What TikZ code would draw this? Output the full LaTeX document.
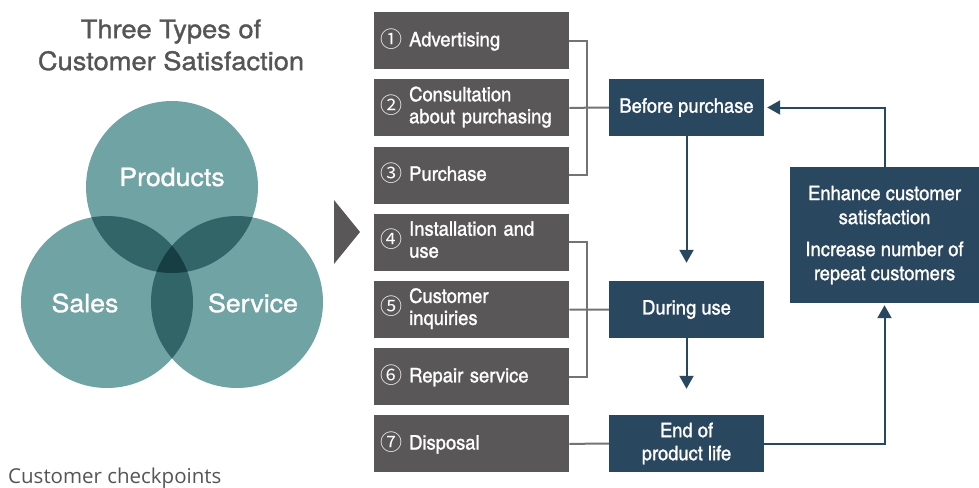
\documentclass[tikz,border=0pt]{standalone}
\usepackage{fontspec}
\setmainfont{TeX Gyre Heros}
\newfontfamily\headfont{TeX Gyre Heros}[FakeBold=1.2, FakeStretch=1.07]
\newfontfamily\condfont{texgyreheroscn}[Extension=.otf,UprightFont=*-regular,BoldFont=*-bold,
  FakeBold=1.2, FakeStretch=1.12]
\newfontfamily\cjkfont{Noto Sans CJK JP}
\newfontfamily\notefont{Open Sans}
\usetikzlibrary{arrows.meta,calc}

\definecolor{stepgray}{HTML}{595757}
\definecolor{phaseblue}{HTML}{2A4760}
\definecolor{venn}{HTML}{70A3A3}
\definecolor{vennpair}{HTML}{326567}
\definecolor{venncore}{HTML}{173F43}
\definecolor{titlegray}{HTML}{555555}
\definecolor{linegray}{HTML}{737373}

% circled step number
\newcommand{\cnum}[1]{{\cjkfont\fontsize{22}{22}\selectfont\symbol{\numexpr9311+#1\relax}}\hspace{7pt}}

\begin{document}
\begin{tikzpicture}[x=1pt, y=-1pt, >=Latex]

% styles
\tikzset{
  stepbox/.style={fill=stepgray, text=white, anchor=north west, minimum height=57pt,
    text width=183pt, inner xsep=6pt, inner ysep=0pt, align=left,
    font=\condfont\fontsize{20}{22}\selectfont},
  phase/.style={fill=phaseblue, text=white, minimum width=155pt, minimum height=57pt,
    inner sep=0pt, align=center, font=\condfont\fontsize{20}{23}\selectfont},
  bracket/.style={draw=linegray, line width=2pt},
  flow/.style={draw=phaseblue, line width=2pt, -{Triangle[width=14pt,length=13pt]}},
  venntext/.style={text=white, font=\headfont\fontsize{25}{25}\selectfont},
}

\useasboundingbox (0,0) rectangle (979,487);

% title
\node[text=titlegray, align=center, inner sep=0pt, font=\headfont\fontsize{25.5}{32}\selectfont]
  (title) at (171,45) {Three Types of\\Customer Satisfaction};

% venn diagram
\coordinate (P) at (172,187);
\coordinate (L) at (107,302);
\coordinate (R) at (237,302);
\fill[venn] (P) circle (86) (L) circle (86) (R) circle (86);
\begin{scope}
  \clip (P) circle (86);
  \fill[vennpair] (L) circle (86) (R) circle (86);
\end{scope}
\begin{scope}
  \clip (L) circle (86);
  \fill[vennpair] (R) circle (86);
\end{scope}
\begin{scope}
  \clip (P) circle (86);
  \clip (L) circle (86);
  \fill[venncore] (R) circle (86);
\end{scope}
\node[venntext] (products) at (172,177) {Products};
\node[venntext] (sales) at (85,303) {Sales};
\node[venntext] (service) at (253,303) {Service};

% note
\node[anchor=base west, inner sep=0pt, text=titlegray, font=\notefont\fontsize{20.5}{20}\selectfont]
  (note) at (8,483) {Customer checkpoints};

% pointer
\fill[stepgray] (334,200) -- (360,232) -- (334,264) -- cycle;

% checkpoints
\foreach \txt [count=\i] in {Advertising, Consultation\\about purchasing, Purchase,
    Installation and\\use, Customer\\inquiries, Repair service, Disposal}
  \node[stepbox] (s\i) at (374,{12+67.2*(\i-1)})
    {\cnum{\i}\begin{tabular}[c]{@{}l@{}}\txt\end{tabular}};

% phases
\node[phase] (before) at (686.5,107.5) {Before purchase};
\node[phase] (during) at (686.5,309.5) {During use};
\node[phase] (end) at (686.5,443.5) {End of\\product life};
\node[phase, minimum width=189pt, minimum height=136pt, font=\condfont\fontsize{20}{24}\selectfont]
  (enhance) at (884.5,235)
  {Enhance customer\\satisfaction\\[8pt]Increase number of\\repeat customers};

% brackets
\draw[bracket] (s1.east) -| ($(s2.east)+(18,0)$) |- (s3.east);
\draw[bracket] (s2.east) -- (before.west);
\draw[bracket] (s4.east) -| ($(s5.east)+(18,0)$) |- (s6.east);
\draw[bracket] (s5.east) -- (during.west);
\draw[bracket] (s7.east) -- (end.west);

% cycle
\draw[flow, shorten >=18pt] (before) -- (during);
\draw[flow, shorten >=26pt] (during) -- (end);
\draw[flow, shorten >=2pt] (end.east) -| (enhance.south);
\draw[flow, shorten >=3pt] (enhance.north) |- (before.east);

\end{tikzpicture}
\end{document}
